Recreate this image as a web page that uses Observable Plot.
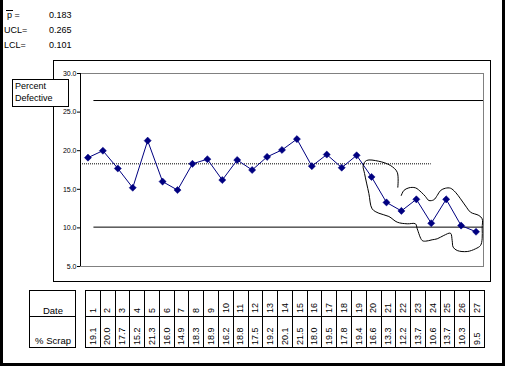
<!DOCTYPE html>
<html>
<head>
<meta charset="utf-8">
<script src="https://cdn.jsdelivr.net/npm/d3@7"></script>
<script src="https://cdn.jsdelivr.net/npm/@observablehq/plot@0.6"></script>
<style>
  html, body { margin: 0; padding: 0; background: white; }
  svg text { font-family: "Liberation Sans", Arial, sans-serif; }
</style>
</head>
<body>
<div id="chart"></div>
<script>
// ---- data ----
const dates = [1,2,3,4,5,6,7,8,9,10,11,12,13,14,15,16,17,18,19,20,21,22,23,24,25,26,27];
const scrap = [19.1,20.0,17.7,15.2,21.3,16.0,14.9,18.3,18.9,16.2,18.8,17.5,19.2,20.1,21.5,18.0,19.5,17.8,19.4,16.6,13.3,12.2,13.7,10.6,13.7,10.3,9.5];
const yTicks = [5,10,15,20,25,30];
const statLabels = ["p =", "UCL=", "LCL="];
const statValues = [0.183, 0.265, 0.101];
const pbar = 0.183, ucl = 0.265, lcl = 0.101;
// hand-drawn annotation loop (date index, percent)
const annotX = [21.99,22.16,22.5,22.94,23.33,23.61,23.84,24.17,24.4,24.62,24.95,25.29,25.62,25.96,26.36,26.63,27.19,27.41,27.41,27.41,27.3,26.96,26.41,25.74,25.47,25.4,25.29,24.84,24.4,24.06,23.61,23.39,23.06,22.94,22.39,21.72,21.16,20.49,20.04,19.82,19.53,19.44,19.66,20.47,21.27,21.72,21.76];
const annotY = [14.2,14.84,15.19,15.19,14.62,14.07,13.55,13.64,14.2,14.84,15.14,15.14,14.62,13.77,12.68,12.03,11.61,11.18,10.01,8.59,7.72,7.29,6.94,7.07,7.5,8.37,9.31,9.02,8.59,8.46,8.28,8.37,9.88,10.53,10.53,10.74,11.48,11.9,12.47,14.46,17.05,18.08,18.73,18.64,18.08,17.21,15.27];

const series = dates.map((d, i) => ({date: d, scrap: scrap[i]}));
const annot = annotX.map((x, i) => ({x, y: annotY[i]}));

const FONT = '"Liberation Sans", Arial, sans-serif';

const chart = Plot.plot({
  width: 508, height: 369,
  marginLeft: 80, marginRight: 25, marginTop: 73, marginBottom: 103,
  x: {domain: [0.5, 27.5], axis: null},
  y: {domain: [5, 30], axis: null},
  style: {fontFamily: FONT, background: "white", color: "black"},
  marks: [
    Plot.frame({stroke: "#808080"}),
    Plot.ruleX([0.5], {stroke: "black"}),
    Plot.axisY(yTicks, {anchor: "left", tickSize: 3, tickPadding: 1, tickFormat: d3.format(".1f"), fontSize: 7, stroke: "black"}),
    Plot.ruleY([ucl * 100], {x1: 1.4, x2: 27.5, stroke: "black"}),
    Plot.ruleY([lcl * 100], {x1: 1.4, x2: 27.5, stroke: "black"}),
    Plot.ruleY([pbar * 100], {x1: 0.5, x2: 24, stroke: "black", strokeDasharray: "1,1"}),
    Plot.line(series, {x: "date", y: "scrap", stroke: "#000080", strokeWidth: 1}),
    Plot.dot(series, {x: "date", y: "scrap", symbol: "diamond2", r: 3.2, fill: "#000080", stroke: "#000080", strokeWidth: 0.5}),
    Plot.line(annot, {x: "x", y: "y", curve: "catmull-rom", stroke: "black", strokeWidth: 1})
  ]
});

const svg = d3.select(chart);

// chart area frame
svg.append("rect").attr("x", 53.5).attr("y", 60.5).attr("width", 437).attr("height", 221)
  .attr("fill", "none").attr("stroke", "black");

// outer thick border (left, right, bottom)
svg.append("rect").attr("x", 0).attr("y", 0).attr("width", 3).attr("height", 366).attr("fill", "black");
svg.append("rect").attr("x", 502).attr("y", 0).attr("width", 3).attr("height", 366).attr("fill", "black");
svg.append("rect").attr("x", 0).attr("y", 363).attr("width", 505).attr("height", 3).attr("fill", "black");

// stats text
const statsG = svg.append("g").attr("font-size", 9).attr("font-family", FONT).attr("fill", "black").attr("text-anchor", "start");
statLabels.forEach((s, i) => {
  statsG.append("text").attr("x", i === 0 ? 7 : 4).attr("y", 18 + i * 15).text(s);
  statsG.append("text").attr("x", 49).attr("y", 18 + i * 15).text(d3.format(".3f")(statValues[i]));
});
svg.append("line").attr("x1", 6).attr("x2", 13).attr("y1", 10.5).attr("y2", 10.5).attr("stroke", "black");

// Percent Defective label box
svg.append("rect").attr("x", 12.5).attr("y", 79.5).attr("width", 56).attr("height", 27)
  .attr("fill", "white").attr("stroke", "black");
const lab = svg.append("g").attr("font-size", 9).attr("font-family", FONT).attr("fill", "black").attr("text-anchor", "start");
lab.append("text").attr("x", 15).attr("y", 89).text("Percent");
lab.append("text").attr("x", 15).attr("y", 101).text("Defective");

// data table: label box
const tTop = 290.5, tMid = 316.5, tBot = 347.5;
svg.append("rect").attr("x", 29.5).attr("y", tTop).attr("width", 46).attr("height", tBot - tTop)
  .attr("fill", "none").attr("stroke", "black");
svg.append("line").attr("x1", 29.5).attr("x2", 75.5).attr("y1", tMid).attr("y2", tMid).attr("stroke", "black");
const tl = svg.append("g").attr("font-size", 9.5).attr("font-family", FONT).attr("fill", "black").attr("text-anchor", "middle");
tl.append("text").attr("x", 53).attr("y", 314).text("Date");
tl.append("text").attr("x", 53).attr("y", 344).text("% Scrap");

// data table: columns
const tx0 = 85, tx1 = 484, cw = (tx1 - tx0) / dates.length;
const tg = svg.append("g").attr("stroke", "black");
tg.append("rect").attr("x", tx0 + 0.5).attr("y", tTop).attr("width", tx1 - tx0).attr("height", tBot - tTop).attr("fill", "none");
tg.append("line").attr("x1", tx0 + 0.5).attr("x2", tx1 + 0.5).attr("y1", tMid).attr("y2", tMid);
dates.forEach((d, i) => {
  if (i > 0) {
    const xx = Math.round(tx0 + i * cw) + 0.5;
    tg.append("line").attr("x1", xx).attr("x2", xx).attr("y1", tTop).attr("y2", tBot);
  }
});
const txtG = svg.append("g").attr("font-size", 9).attr("font-family", FONT).attr("fill", "black").attr("text-anchor", "start");
dates.forEach((d, i) => {
  const cx = tx0 + (i + 0.5) * cw + 3.3;
  txtG.append("text").attr("transform", `translate(${cx},313) rotate(-90)`).text(d);
  txtG.append("text").attr("transform", `translate(${cx},345) rotate(-90)`).text(d3.format(".1f")(scrap[i]));
});

document.getElementById("chart").appendChild(chart);
</script>
</body>
</html>
